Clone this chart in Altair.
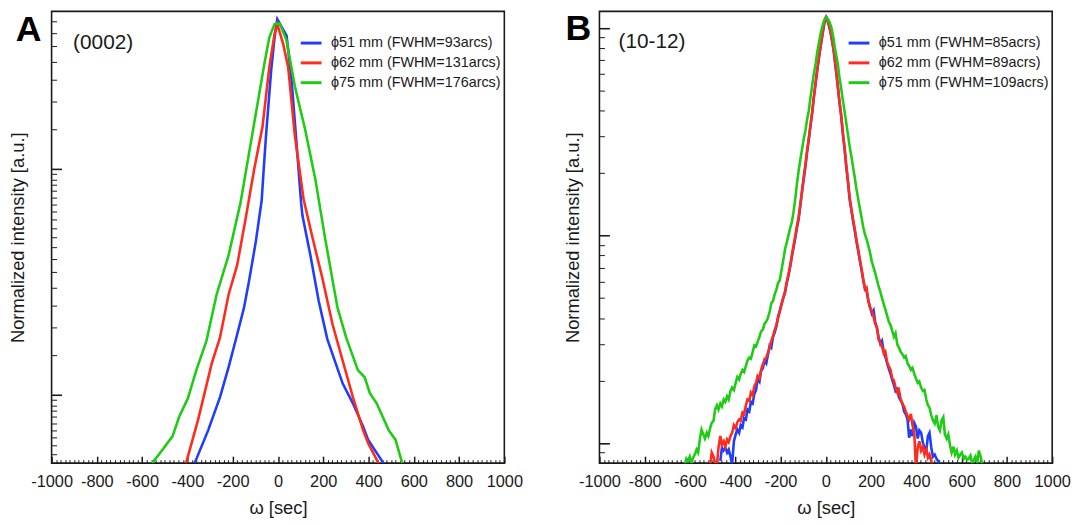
import altair as alt
import pandas as pd

FONT = "Liberation Sans"
INK = "#1a1a1a"
SERIES_COLORS = ["#1f3dff", "#ff2b1c", "#1fcc14"]

# ---------------- Panel A (0002) ----------------
A_LABELS = ["ϕ51 mm (FWHM=93arcs)", "ϕ62 mm (FWHM=131arcs)", "ϕ75 mm (FWHM=176arcs)"]

A_blue_x = [-368, -308, -256, -218, -180, -150, -128, -98, -72, -63, -53, -30, -15, -3,
            38, 60, 83, 102, 108, 143, 180, 218, 286, 331, 376, 398, 436, 466]
A_blue_y = [0.50, 0.70, 0.98, 1.33, 1.86, 2.44, 3.19, 4.77, 7.27, 10.0, 14.0, 27.4, 38.4, 46.2,
            39.0, 24.8, 12.65, 7.15, 6.25, 4.17, 2.61, 1.77, 1.125, 0.92, 0.727, 0.635, 0.555, 0.50]

A_red_x = [-406, -353, -293, -256, -218, -180, -143, -105, -68, -38, -15, -3,
           23, 45, 75, 113, 150, 196, 241, 286, 331, 376, 398, 444]
A_red_y = [0.50, 0.777, 1.376, 1.80, 2.79, 3.77, 6.04, 10.0, 15.5, 28.4, 39.7, 43.9,
           35.9, 28.4, 14.0, 7.39, 5.10, 3.30, 2.06, 1.42, 0.98, 0.70, 0.614, 0.50]

A_green_x = [-556, -526, -466, -436, -398, -361, -316, -271, -218, -165, -135, -105, -60, -38, -15, 8,
             38, 75, 120, 165, 211, 263, 301, 353, 383, 406, 436, 489, 519, 549]
A_green_y = [0.50, 0.546, 0.657, 0.804, 0.967, 1.287, 1.74, 2.79, 4.17, 7.15, 10.7, 16.0, 29.3, 38.4, 43.9, 44.2,
             37.1, 23.2, 15.0, 9.04, 4.77, 2.44, 1.80, 1.29, 1.20, 1.02, 0.92, 0.70, 0.635, 0.50]

A_Y_DOMAIN = [0.5, 50]
A_Y_MAJOR = [1, 10]
A_Y_MINOR = [0.55, 0.6, 0.65, 0.7, 0.75, 0.8, 0.85, 0.9, 0.95,
             1.5, 2, 2.5, 3, 3.5, 4, 4.5, 5, 5.5, 6, 6.5, 7, 7.5, 8, 8.5, 9, 9.5,
             15, 20, 25, 30, 35, 40, 45]

# ---------------- Panel B (10-12) ----------------
B_LABELS = ["ϕ51 mm (FWHM=85acrs)", "ϕ62 mm (FWHM=89acrs)", "ϕ75 mm (FWHM=109acrs)"]

B_blue_x = [-466, -459, -452, -444, -436, -429, -421, -414, -406, -398, -391, -383, -376, -368, -361, -353,
            -346, -338, -331, -323, -316, -308, -301, -293, -286, -278, -271, -263, -256, -248, -241, -233,
            -226, -218, -211, -203, -196, -188, -180, -173, -165, -158, -150, -143, -135, -128, -120, -113,
            -105, -98, -90, -83, -75, -68, -60, -53, -45, -38, -30, -23, -15, -8, -3, 0,
            5, 12, 20, 27, 35, 45, 53, 60, 68, 75, 83, 90, 98, 105, 113, 120,
            128, 135, 143, 150, 158, 165, 173, 180, 188, 196, 203, 211, 218, 226, 233, 241,
            248, 256, 263, 271, 278, 286, 293, 301, 308, 316, 323, 331, 338, 346, 353, 361,
            368, 376, 383, 391, 398, 406, 413, 421, 429, 436, 444, 451, 458, 466, 473, 481,
            489, 496, 504]
B_blue_y = [0.82, 0.95, 0.92, 0.95, 0.90, 0.93, 0.86, 0.79, 1.02, 1.10, 1.16, 1.12, 1.22, 1.19, 1.32, 1.30,
            1.45, 1.42, 1.58, 1.55, 1.72, 1.80, 2.05, 1.98, 2.22, 2.30, 2.50, 2.42, 2.65, 2.95, 2.88, 3.25,
            3.40, 3.65, 4.05, 4.35, 4.65, 5.00, 5.30, 5.85, 6.40, 7.00, 7.90, 8.70, 9.70, 10.8, 12.0, 13.8,
            16.2, 18.5, 21.5, 25.0, 29.0, 33.5, 39.0, 46.0, 54.0, 62.0, 72.0, 81.0, 92.0, 103.0, 110.0, 112.0,
            110.0, 104.0, 96.0, 87.0, 77.0, 62.0, 52.0, 44.0, 37.5, 31.0, 26.0, 21.5, 18.0, 15.0, 13.2, 11.8,
            10.5, 9.4, 8.4, 7.6, 6.8, 6.1, 5.55, 5.40, 4.85, 4.50, 4.20, 4.35, 3.85, 3.55, 3.25, 3.00,
            3.10, 2.75, 2.60, 2.42, 2.28, 2.15, 2.02, 1.90, 1.78, 1.82, 1.66, 1.60, 1.55, 1.42, 1.38, 1.30,
            1.06, 1.16, 1.08, 1.25, 1.20, 1.05, 1.15, 1.12, 1.00, 0.95, 0.92, 1.08, 1.12, 0.95, 0.86, 0.88,
            0.84, 0.82, 0.78]

B_red_x = [-511, -504, -496, -489, -481, -474, -466, -459, -451, -444, -436, -429, -421, -414, -406, -398,
           -391, -383, -376, -368, -361, -353, -346, -338, -331, -323, -316, -308, -301, -293, -286, -278,
           -271, -263, -256, -248, -241, -233, -226, -218, -211, -203, -196, -188, -180, -173, -165, -158,
           -150, -143, -135, -128, -120, -113, -105, -98, -90, -83, -75, -68, -60, -53, -45, -38,
           -30, -23, -15, -8, -2, 2, 7, 13, 20, 27, 35, 45, 53, 60, 68, 75,
           83, 90, 98, 105, 113, 120, 128, 135, 143, 150, 158, 165, 173, 180, 188, 196,
           203, 211, 218, 226, 233, 241, 248, 256, 263, 271, 278, 286, 293, 301, 308, 316,
           323, 331, 338, 346, 353, 361, 368, 376, 383, 391, 398, 406, 413, 421, 429, 436,
           444, 451, 458, 466, 474]
B_red_y = [0.78, 0.90, 0.86, 0.80, 0.78, 0.95, 1.08, 0.98, 1.02, 0.96, 1.04, 1.01, 1.08, 1.12, 1.22, 1.18,
           1.26, 1.30, 1.28, 1.40, 1.38, 1.52, 1.62, 1.60, 1.75, 1.70, 1.88, 1.95, 2.10, 2.05, 2.25, 2.40,
           2.50, 2.58, 2.72, 2.88, 3.10, 3.28, 3.50, 3.72, 4.00, 4.30, 4.65, 5.00, 5.40, 5.95, 6.50, 7.10,
           8.00, 8.90, 9.90, 11.0, 12.3, 14.0, 16.5, 19.0, 22.0, 25.5, 29.5, 34.0, 39.5, 46.5, 54.5, 63.0,
           73.0, 82.0, 93.0, 104.0, 111.0, 113.0, 110.0, 104.0, 97.0, 88.0, 78.0, 63.0, 52.5, 44.5, 38.0, 31.5,
           26.5, 22.0, 18.3, 15.3, 13.4, 12.0, 10.7, 9.6, 8.6, 7.7, 6.9, 6.2, 5.50, 5.60, 4.80, 4.45,
           4.35, 4.05, 3.75, 3.62, 3.15, 3.05, 2.92, 2.70, 2.76, 2.45, 2.35, 2.25, 2.05, 2.00, 1.85, 1.75,
           1.80, 1.62, 1.55, 1.50, 1.42, 1.35, 1.30, 1.38, 1.22, 1.10, 0.76, 0.95, 1.02, 0.92, 0.96, 0.88,
           0.93, 0.85, 0.88, 0.82, 0.76]

B_green_x = [-624, -616, -609, -601, -594, -586, -579, -571, -564, -556, -549, -541, -534, -526, -519, -511,
             -504, -496, -489, -481, -474, -466, -459, -451, -444, -436, -429, -421, -414, -406, -398, -391,
             -383, -376, -368, -361, -353, -346, -338, -331, -323, -316, -308, -301, -293, -286, -278, -271,
             -263, -256, -248, -241, -233, -226, -218, -211, -203, -196, -188, -180, -173, -165, -158, -150,
             -143, -135, -128, -120, -113, -105, -98, -90, -83, -75, -68, -60, -53, -45, -38, -30,
             -23, -15, -8, -2, 4, 10, 17, 25, 33, 40, 47, 53, 60, 68, 75, 83,
             90, 98, 105, 113, 120, 128, 135, 143, 150, 158, 165, 173, 180, 188, 196, 203,
             211, 218, 226, 233, 241, 248, 256, 263, 271, 278, 286, 293, 301, 308, 316, 323,
             331, 338, 346, 353, 361, 368, 376, 383, 391, 398, 406, 413, 421, 429, 436, 444,
             451, 458, 466, 474, 481, 489, 496, 504, 511, 519, 526, 534, 541, 549, 556, 564,
             571, 579, 586, 594, 601, 609, 616, 624, 631, 639, 646, 654, 661, 669, 676, 684,
             692]
B_green_y = [0.78, 0.84, 0.82, 0.86, 0.80, 0.85, 0.88, 0.93, 0.90, 1.05, 1.16, 1.10, 1.05, 1.12, 1.08, 1.18,
             1.25, 1.28, 1.45, 1.52, 1.45, 1.55, 1.50, 1.62, 1.58, 1.68, 1.62, 1.78, 1.85, 1.80, 1.95, 2.08,
             2.02, 2.15, 2.25, 2.20, 2.35, 2.50, 2.58, 2.55, 2.75, 2.95, 2.92, 3.08, 3.25, 3.45, 3.52, 3.75,
             3.85, 4.00, 4.30, 4.70, 4.85, 5.20, 5.50, 5.90, 6.10, 6.80, 7.60, 8.60, 9.20, 10.0, 10.8, 11.6,
             12.9, 15.0, 17.5, 20.5, 23.0, 26.0, 29.0, 32.0, 36.0, 40.0, 46.0, 53.0, 60.0, 67.0, 76.0, 85.0,
             94.0, 102.0, 108.0, 111.0, 112.0, 110.0, 106.0, 100.0, 90.0, 80.0, 73.0, 67.0, 58.0, 51.0, 45.0, 39.5,
             35.0, 30.5, 27.0, 24.0, 21.5, 19.0, 16.8, 15.0, 13.6, 12.2, 11.0, 10.1, 9.6, 8.9, 8.2, 7.5,
             7.0, 6.6, 6.1, 5.7, 5.35, 5.0, 4.65, 4.40, 4.10, 3.85, 3.70, 3.48, 3.25, 3.38, 2.98, 2.88,
             2.75, 2.68, 2.58, 2.62, 2.42, 2.35, 2.25, 2.30, 2.15, 2.05, 1.95, 1.98, 1.85, 1.78, 1.80, 1.62,
             1.52, 1.48, 1.36, 1.28, 1.24, 1.36, 1.20, 1.15, 1.28, 1.33, 1.10, 1.05, 1.10, 0.97, 0.90, 0.96,
             0.88, 0.92, 0.85, 0.88, 0.90, 0.84, 0.86, 0.83, 0.84, 0.87, 0.80, 0.83, 0.86, 0.80, 0.92, 0.86,
             0.78]

B_Y_DOMAIN = [0.8, 120]
B_Y_MAJOR = [1, 10, 100]
B_Y_MINOR = [0.9, 2, 3, 4, 5, 6, 7, 8, 9, 20, 30, 40, 50, 60, 70, 80, 90]

# ---------------- shared x ticks ----------------
X_DOMAIN = [-1000, 1000]
X_LABEL_VALUES = [-1000, -800, -600, -400, -200, 0, 200, 400, 600, 800, 1000]
X_MINOR = [v for v in range(-1000, 1001, 20) if v % 200 != 0]


def series_frame(labels, xs_list, ys_list):
    rows = []
    for lab, xs, ys in zip(labels, xs_list, ys_list):
        for xv, yv in zip(xs, ys):
            rows.append({"w": xv, "I": yv, "s": lab})
    return pd.DataFrame(rows)


def panel(df, labels, ydom, ymajor, yminor, tag, tag_pos, note, note_pos,
          legend_x, legend_y, ytitle_pad):
    xs = alt.Scale(domain=X_DOMAIN, nice=False, zero=False)
    ys = alt.Scale(type="log", domain=ydom, nice=False)

    lines = alt.Chart(df).mark_line(strokeWidth=2.6, clip=True).encode(
        x=alt.X("w:Q", scale=xs, axis=alt.Axis(
            orient="bottom", values=X_LABEL_VALUES, ticks=False, domain=False, grid=False,
            labelExpr="'' + datum.value",
            labelFont=FONT, labelFontSize=16.5, labelColor=INK, labelPadding=11,
            labelFlush=False, labelOverlap=False,
            title="ω [sec]", titleFont=FONT, titleFontSize=18.5, titleFontWeight="normal",
            titleColor=INK, titlePadding=8)),
        y=alt.Y("I:Q", scale=ys, axis=alt.Axis(
            orient="left", labels=False, ticks=False, domain=False, grid=False,
            title="Normalized intensity [a.u.]", titleFont=FONT, titleFontSize=18.5,
            titleFontWeight="normal", titleColor=INK, titlePadding=ytitle_pad)),
        color=alt.Color("s:N", sort=labels, scale=alt.Scale(domain=labels, range=SERIES_COLORS),
                        legend=alt.Legend(
                            title=None, orient="none", legendX=legend_x, legendY=legend_y,
                            symbolType="stroke", symbolStrokeWidth=3, symbolSize=440,
                            labelFont=FONT, labelFontSize=14.5, labelColor=INK,
                            labelOffset=8, rowPadding=1, padding=0, labelLimit=400)),
    )

    def xticks(values, size, width):
        d = pd.DataFrame({"w": values, "I": [ydom[0]] * len(values)})
        return alt.Chart(d).mark_point(opacity=0).encode(
            x=alt.X("w:Q", scale=xs, axis=alt.Axis(
                orient="bottom", values=values, labels=False, domain=False, grid=False,
                ticks=True, tickSize=size, tickWidth=width, tickColor=INK,
                offset=-size, title=None)),
            y=alt.Y("I:Q", scale=ys, axis=None))

    def yticks(values, size, width):
        d = pd.DataFrame({"I": values, "w": [X_DOMAIN[0]] * len(values)})
        return alt.Chart(d).mark_point(opacity=0).encode(
            y=alt.Y("I:Q", scale=ys, axis=alt.Axis(
                orient="left", values=values, labels=False, domain=False, grid=False,
                ticks=True, tickSize=size, tickWidth=width, tickColor=INK,
                offset=-size, title=None)),
            x=alt.X("w:Q", scale=xs, axis=None))

    tag_layer = alt.Chart(pd.DataFrame({"w": [tag_pos[0]], "I": [tag_pos[1]], "t": [tag]})).mark_text(
        font=FONT, fontSize=36, fontWeight="bold", color="#000000", align="left",
        baseline="alphabetic", clip=False).encode(
        x=alt.X("w:Q", scale=xs, axis=None), y=alt.Y("I:Q", scale=ys, axis=None), text="t:N")

    note_layer = alt.Chart(pd.DataFrame({"w": [note_pos[0]], "I": [note_pos[1]], "t": [note]})).mark_text(
        font=FONT, fontSize=21, color=INK, align="left", baseline="alphabetic").encode(
        x=alt.X("w:Q", scale=xs, axis=None), y=alt.Y("I:Q", scale=ys, axis=None), text="t:N")

    return alt.layer(
        lines,
        xticks(X_LABEL_VALUES, 7, 1.5),
        xticks(X_MINOR, 3.5, 1),
        yticks(ymajor, 10, 1.6),
        yticks(yminor, 5, 1),
        tag_layer,
        note_layer,
    ).resolve_axis(x="independent", y="independent").properties(width=457, height=456)


dfA = series_frame(A_LABELS, [A_blue_x, A_red_x, A_green_x], [A_blue_y, A_red_y, A_green_y])
dfB = series_frame(B_LABELS, [B_blue_x, B_red_x, B_green_x], [B_blue_y, B_red_y, B_green_y])

panelA = panel(dfA, A_LABELS, A_Y_DOMAIN, A_Y_MAJOR, A_Y_MINOR,
               "A", (-1158, 36.8), "(0002)", (-905, 34.1),
               legend_x=250, legend_y=20, ytitle_pad=24)
panelB = panel(dfB, B_LABELS, B_Y_DOMAIN, B_Y_MAJOR, B_Y_MINOR,
               "B", (-1150, 87.0), "(10-12)", (-916, 80.0),
               legend_x=250, legend_y=20, ytitle_pad=17.5)

chart = alt.hconcat(panelA, panelB, spacing=38).resolve_scale(color="independent").properties(
    padding=0, background="white"
).configure_view(stroke=INK, strokeWidth=1.6)

chart.save("out.html", embed_options={"renderer": "svg", "actions": False})
